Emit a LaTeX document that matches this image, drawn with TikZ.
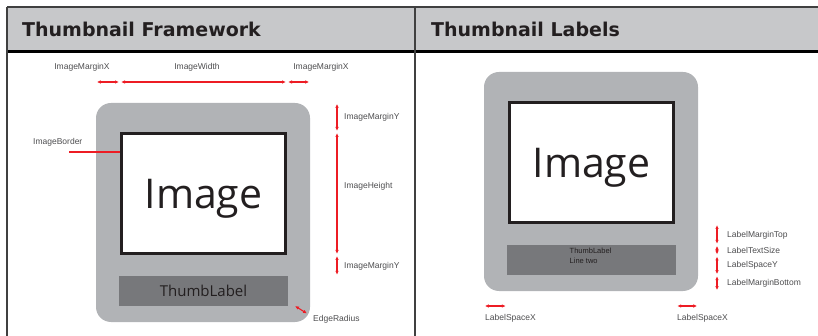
\documentclass[tikz,border=0pt]{standalone}
\usepackage{fontspec}
\setmainfont{Liberation Sans}
\newfontfamily\headfont{DejaVu Sans}
\newfontfamily\imgfont{Open Sans}
\usetikzlibrary{arrows.meta,calc}

\definecolor{headgray}{HTML}{C7C8CA}
\definecolor{thumbgray}{HTML}{B1B3B6}
\definecolor{labelgray}{HTML}{77787B}
\definecolor{dimred}{HTML}{ED1C24}
\definecolor{tagtext}{HTML}{4D4D4F}
\definecolor{darktext}{HTML}{231F20}

\tikzset{
  head/.style = {anchor=base west, inner sep=0pt, text=darktext,
                 font=\headfont\bfseries\fontsize{19}{22}\selectfont},
  thumb/.style = {fill=thumbgray, rounded corners=15pt, inner sep=0pt,
                  minimum width=214pt, minimum height=219pt},
  imgbox/.style = {draw=darktext, line width=3pt, fill=white, inner sep=0pt,
                   minimum width=164pt, minimum height=120pt, text depth=0pt,
                   text=darktext, font=\imgfont\fontsize{41}{41}\selectfont},
  lblbox/.style = {fill=labelgray, inner sep=0pt, minimum width=169pt,
                   minimum height=30pt},
  dim/.style = {draw, color=dimred, line width=1.1pt,
                {Latex[length=4pt,width=3.5pt]}-{Latex[length=4pt,width=3.5pt]},
                shorten <=1pt, shorten >=1pt},
  tag/.style = {inner sep=0pt, text=tagtext, font=\fontsize{8.5}{10}\selectfont}
}

\begin{document}
\begin{tikzpicture}[x=1pt, y=-1pt]
  \useasboundingbox (0,0) rectangle (818,336);
  % header band and frame
  \path[fill=headgray] (7,7) rectangle (818,52);
  \path[draw, line width=1.2pt, black!75] (7,7) -- (818,7);
  \path[draw, line width=3pt, black] (7,52) -- (818,52);
  \path[draw, line width=1.5pt, black!75] (7,7) -- (7,336);
  \path[draw, line width=1.5pt, black!75] (415,7) -- (415,336);
  \node[head] (titleL) at (22,37) {Thumbnail Framework};
  \node[head] (titleR) at (431,37) {Thumbnail Labels};

  % thumbnail framework
  \node[thumb] (thumbL) at (203,212.5) {};
  \node[imgbox] (imgL) at (203.5,193.5) {Image};
  \node[lblbox, text=darktext, font=\imgfont\fontsize{15}{15}\selectfont] (lblL) at (203.5,291) {ThumbLabel};

  % widths
  \coordinate (wy) at (0,82);
  \path[dim] (thumbL.west |- wy) -- (imgL.west |- wy);
  \path[dim] (imgL.west |- wy) -- (imgL.east |- wy);
  \path[dim] (imgL.east |- wy) -- (thumbL.east |- wy);
  \node[tag] (mxL) at (82,67) {ImageMarginX};
  \node[tag] (iw) at (197,67) {ImageWidth};
  \node[tag] (mxR) at (321,67) {ImageMarginX};

  % heights
  \coordinate (hx) at (337,0);
  \path[dim] (hx |- thumbL.north) -- (hx |- imgL.north);
  \path[dim] (hx |- imgL.north) -- (hx |- imgL.south);
  \path[dim] (hx |- imgL.south) -- (hx |- lblL.north);
  \node[tag, anchor=west] (myT) at (344,117) {ImageMarginY};
  \node[tag, anchor=west] (ih) at (344,186) {ImageHeight};
  \node[tag, anchor=west] (myB) at (344,266) {ImageMarginY};

  % border, radius
  \node[tag, anchor=west] (brd) at (33,142) {ImageBorder};
  \coordinate (brdS) at (69,152);
  \path[draw, color=dimred, line width=1.1pt] (brdS) -- (imgL.west |- brdS);
  \coordinate (radA) at (295,306);
  \coordinate (radB) at (307,313.5);
  \path[dim, shorten <=0pt, shorten >=0pt] (radA) -- (radB);
  \node[tag, anchor=west] (rad) at (313,319) {EdgeRadius};

  % thumbnail labels
  \node[thumb] (thumbR) at (591,181.5) {};
  \node[imgbox] (imgR) at (591.5,162.5) {Image};
  \node[lblbox] (lblR) at (591.5,260) {};
  \node[inner sep=0pt, anchor=north west, align=left, text=darktext,
        font=\fontsize{7.5}{10}\selectfont] (lbltext) at (569.5,247.5) {ThumbLabel\\Line two};

  \coordinate (vx) at (717,0);
  \coordinate (txt) at (0,255.5);
  \path[dim] (vx |- imgR.south) -- (vx |- lblR.north);
  \path[dim] (vx |- lblR.north) -- (vx |- txt);
  \path[dim] (vx |- txt) -- (vx |- lblR.south);
  \path[dim] (vx |- lblR.south) -- (vx |- thumbR.south);
  \node[tag, anchor=west] (lmt) at (727,235) {LabelMarginTop};
  \node[tag, anchor=west] (lts) at (727,250) {LabelTextSize};
  \node[tag, anchor=west] (lsy) at (727,265) {LabelSpaceY};
  \node[tag, anchor=west] (lmb) at (727,283) {LabelMarginBottom};

  \coordinate (sy) at (0,306);
  \path[dim] (thumbR.west |- sy) -- (lblR.west |- sy);
  \path[dim] (lblR.east |- sy) -- (thumbR.east |- sy);
  \node[tag, anchor=west] (sxL) at (485,318) {LabelSpaceX};
  \node[tag, anchor=west] (sxR) at (677,318) {LabelSpaceX};
\end{tikzpicture}
\end{document}
